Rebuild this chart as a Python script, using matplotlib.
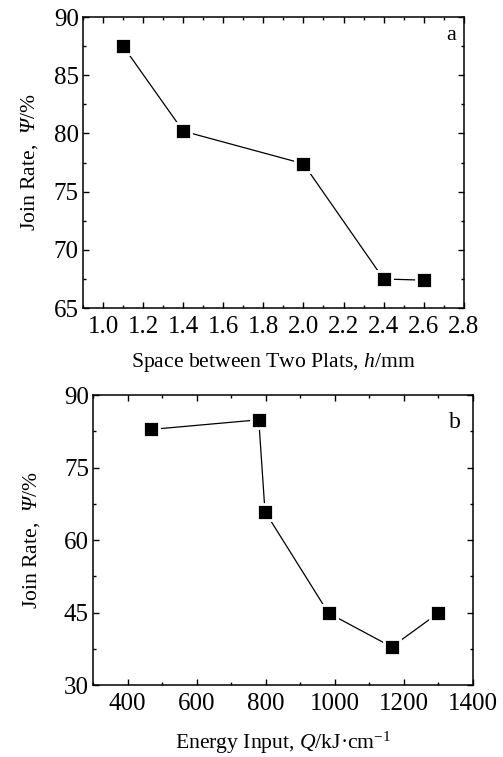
import matplotlib
matplotlib.use('Agg')
import matplotlib.pyplot as plt
from matplotlib.ticker import MultipleLocator

plt.rcParams['font.family'] = ['Liberation Serif', 'DejaVu Serif']
plt.rcParams['mathtext.fontset'] = 'custom'
plt.rcParams['mathtext.rm'] = 'Liberation Serif'
plt.rcParams['mathtext.it'] = 'Liberation Serif:italic'
# italic capital Greek is forced upright in mathit, so borrow bf slot
plt.rcParams['mathtext.bf'] = 'Liberation Serif:italic'

# panel a: join rate vs plate spacing
space_h = [1.1, 1.4, 2.0, 2.4, 2.6]
rate_a = [87.5, 80.2, 77.4, 67.5, 67.4]

# panel b: join rate vs energy input
energy_q = [467, 780, 798, 982, 1165, 1300]
rate_b = [82.9, 84.9, 65.9, 44.9, 37.9, 44.9]

fig = plt.figure(figsize=(5.03, 7.57), dpi=100)
ax1 = fig.add_axes([0.165, 0.593, 0.757, 0.3845])
ax2 = fig.add_axes([0.185, 0.095, 0.755, 0.383])


def style(ax, xmaj, xmin, ymaj, ymin):
    ax.xaxis.set_major_locator(MultipleLocator(xmaj))
    ax.xaxis.set_minor_locator(MultipleLocator(xmin))
    ax.yaxis.set_major_locator(MultipleLocator(ymaj))
    ax.yaxis.set_minor_locator(MultipleLocator(ymin))
    ax.tick_params(which='both', direction='in', top=True, right=True,
                   labelsize=18, width=1)
    ax.tick_params(axis='x', pad=6)
    ax.tick_params(axis='y', pad=3)
    ax.tick_params(which='major', length=4.5)
    ax.tick_params(which='minor', length=2.5)
    for s in ax.spines.values():
        s.set_linewidth(1.1)


kw = dict(color='black', linewidth=0.9, marker='s', markersize=11,
          markerfacecolor='black', markeredgecolor='white', markeredgewidth=2)
ylab = r'Join Rate,  $\mathbf{Ψ}$/%'

ax1.plot(space_h, rate_a, **kw)
ax1.set_xlim(0.9, 2.8)
ax1.set_ylim(65, 90)
style(ax1, 0.2, 0.1, 5, 2.5)
ticks_a = [1.0, 1.2, 1.4, 1.6, 1.8, 2.0, 2.2, 2.4, 2.6, 2.8]
ax1.set_xticks(ticks_a)
ax1.set_xticklabels(['%.1f' % v for v in ticks_a])
ax1.set_xlabel(r'Space between Two Plats, $\mathit{h}$/mm', fontsize=15.6, labelpad=9)
ax1.set_ylabel(ylab, fontsize=15.6, labelpad=10)
ax1.text(0.968, 0.935, 'a', transform=ax1.transAxes, fontsize=16,
         ha='center', va='center')

ax2.plot(energy_q, rate_b, **kw)
ax2.set_xlim(300, 1400)
ax2.set_ylim(30, 90)
style(ax2, 200, 100, 15, 7.5)
ax2.set_xlabel(r'Energy Input, $\mathit{Q}$/kJ·cm$^{-1}$', fontsize=15.6, labelpad=10)
ax2.set_ylabel(ylab, fontsize=15.6, labelpad=16)
ax2.text(0.953, 0.905, 'b', transform=ax2.transAxes, fontsize=17,
         ha='center', va='center')

fig.savefig('out.png', dpi=100)
